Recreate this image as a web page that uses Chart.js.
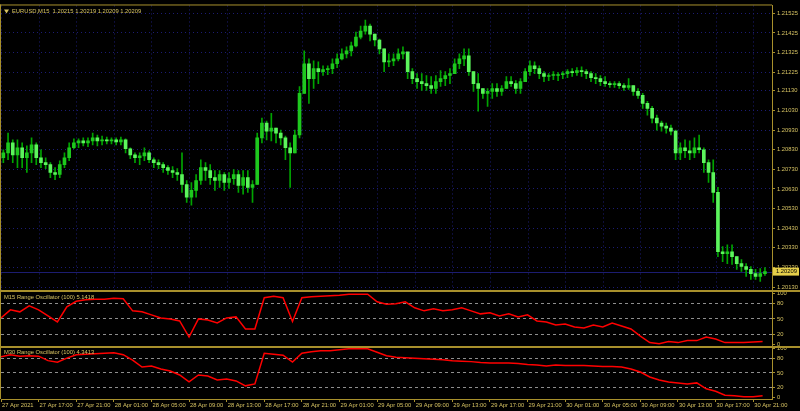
<!DOCTYPE html>
<html>
<head>
<meta charset="utf-8">
<script src="https://cdn.jsdelivr.net/npm/chart.js@4.4.0/dist/chart.umd.min.js"></script>
<style>
  html, body { margin: 0; padding: 0; background: #000; }
  canvas { display: block; }
</style>
</head>
<body>
<canvas id="chart" width="800" height="411"></canvas>
<script>
    // EURUSD M15, shown as 30 minute candles (hours since 27 Apr 13:00)
    const barHours = 0.5;
    const firstOpen = 1.20789;
    const highs = [
        1.20830, 1.20915, 1.20880, 1.20880, 1.20865, 1.20850, 1.20890, 1.20865, 1.20830, 1.20789,
        1.20764, 1.20739, 1.20774, 1.20814, 1.20865, 1.20885, 1.20885, 1.20890, 1.20890, 1.20915,
        1.20905, 1.20900, 1.20895, 1.20890, 1.20890, 1.20895, 1.20885, 1.20840, 1.20814, 1.20814,
        1.20840, 1.20825, 1.20789, 1.20779, 1.20764, 1.20749, 1.20744, 1.20734, 1.20814, 1.20673,
        1.20663, 1.20704, 1.20779, 1.20764, 1.20754, 1.20724, 1.20724, 1.20714, 1.20714, 1.20729,
        1.20724, 1.20724, 1.20724, 1.20673, 1.20915, 1.20991, 1.20976, 1.21016, 1.20940, 1.20930,
        1.20900, 1.20865, 1.20930, 1.21152, 1.21334, 1.21293, 1.21283, 1.21278, 1.21258, 1.21258,
        1.21293, 1.21318, 1.21344, 1.21354, 1.21379, 1.21429, 1.21460, 1.21490, 1.21470, 1.21419,
        1.21394, 1.21344, 1.21318, 1.21318, 1.21344, 1.21354, 1.21318, 1.21243, 1.21218, 1.21218,
        1.21208, 1.21203, 1.21208, 1.21233, 1.21228, 1.21243, 1.21293, 1.21318, 1.21344, 1.21344,
        1.21228, 1.21218, 1.21142, 1.21142, 1.21167, 1.21167, 1.21157, 1.21203, 1.21203, 1.21182,
        1.21192, 1.21243, 1.21283, 1.21278, 1.21258, 1.21228, 1.21218, 1.21228, 1.21223, 1.21228,
        1.21238, 1.21243, 1.21248, 1.21253, 1.21238, 1.21228, 1.21218, 1.21208, 1.21203, 1.21177,
        1.21177, 1.21177, 1.21167, 1.21192, 1.21157, 1.21142, 1.21117, 1.21077, 1.21051, 1.21006,
        1.20976, 1.20966, 1.20956, 1.20930, 1.20865, 1.20880, 1.20875, 1.20890, 1.20905, 1.20840,
        1.20779, 1.20779, 1.20638, 1.20336, 1.20346, 1.20346, 1.20285, 1.20270, 1.20250, 1.20235,
        1.20220, 1.20225, 1.20230
    ];
    const lows = [
        1.20764, 1.20779, 1.20764, 1.20739, 1.20739, 1.20714, 1.20764, 1.20754, 1.20739, 1.20734,
        1.20688, 1.20678, 1.20688, 1.20739, 1.20774, 1.20835, 1.20840, 1.20850, 1.20845, 1.20855,
        1.20850, 1.20855, 1.20860, 1.20860, 1.20855, 1.20855, 1.20814, 1.20784, 1.20764, 1.20754,
        1.20774, 1.20764, 1.20739, 1.20734, 1.20714, 1.20704, 1.20688, 1.20673, 1.20613, 1.20562,
        1.20547, 1.20588, 1.20653, 1.20673, 1.20653, 1.20623, 1.20638, 1.20623, 1.20633, 1.20653,
        1.20613, 1.20603, 1.20613, 1.20562, 1.20653, 1.20865, 1.20880, 1.20875, 1.20865, 1.20855,
        1.20779, 1.20638, 1.20814, 1.20890, 1.21117, 1.21066, 1.21142, 1.21167, 1.21208, 1.21213,
        1.21218, 1.21248, 1.21288, 1.21298, 1.21308, 1.21354, 1.21394, 1.21419, 1.21384, 1.21359,
        1.21318, 1.21228, 1.21253, 1.21258, 1.21283, 1.21293, 1.21192, 1.21167, 1.21142, 1.21132,
        1.21132, 1.21117, 1.21117, 1.21152, 1.21157, 1.21167, 1.21218, 1.21243, 1.21258, 1.21208,
        1.21127, 1.21026, 1.21092, 1.21051, 1.21092, 1.21102, 1.21107, 1.21142, 1.21152, 1.21117,
        1.21117, 1.21177, 1.21208, 1.21218, 1.21192, 1.21177, 1.21182, 1.21187, 1.21182, 1.21192,
        1.21197, 1.21203, 1.21208, 1.21203, 1.21192, 1.21177, 1.21167, 1.21157, 1.21152, 1.21147,
        1.21147, 1.21142, 1.21132, 1.21137, 1.21107, 1.21092, 1.21041, 1.21006, 1.20966, 1.20930,
        1.20925, 1.20915, 1.20905, 1.20779, 1.20779, 1.20789, 1.20779, 1.20789, 1.20814, 1.20714,
        1.20663, 1.20562, 1.20285, 1.20260, 1.20250, 1.20245, 1.20220, 1.20210, 1.20184, 1.20169,
        1.20169, 1.20159, 1.20189
    ];
    const closes = [
        1.20814, 1.20865, 1.20804, 1.20840, 1.20789, 1.20814, 1.20855, 1.20789, 1.20764, 1.20754,
        1.20714, 1.20704, 1.20754, 1.20789, 1.20840, 1.20865, 1.20875, 1.20865, 1.20875, 1.20890,
        1.20875, 1.20880, 1.20875, 1.20880, 1.20870, 1.20880, 1.20835, 1.20804, 1.20789, 1.20799,
        1.20814, 1.20779, 1.20764, 1.20754, 1.20739, 1.20724, 1.20714, 1.20704, 1.20653, 1.20588,
        1.20623, 1.20673, 1.20739, 1.20724, 1.20688, 1.20673, 1.20704, 1.20663, 1.20683, 1.20704,
        1.20648, 1.20688, 1.20638, 1.20653, 1.20890, 1.20966, 1.20925, 1.20940, 1.20915, 1.20890,
        1.20840, 1.20814, 1.20905, 1.21117, 1.21268, 1.21192, 1.21243, 1.21228, 1.21238, 1.21243,
        1.21268, 1.21293, 1.21318, 1.21334, 1.21359, 1.21404, 1.21434, 1.21460, 1.21419, 1.21389,
        1.21344, 1.21278, 1.21283, 1.21293, 1.21318, 1.21329, 1.21228, 1.21192, 1.21177, 1.21167,
        1.21157, 1.21142, 1.21177, 1.21192, 1.21208, 1.21218, 1.21268, 1.21293, 1.21308, 1.21228,
        1.21167, 1.21142, 1.21117, 1.21127, 1.21142, 1.21127, 1.21142, 1.21177, 1.21167, 1.21142,
        1.21177, 1.21228, 1.21258, 1.21243, 1.21218, 1.21203, 1.21208, 1.21208, 1.21213, 1.21218,
        1.21228, 1.21223, 1.21233, 1.21228, 1.21218, 1.21197, 1.21192, 1.21177, 1.21167, 1.21162,
        1.21167, 1.21157, 1.21147, 1.21157, 1.21127, 1.21107, 1.21066, 1.21041, 1.20991, 1.20966,
        1.20950, 1.20940, 1.20925, 1.20814, 1.20840, 1.20825, 1.20814, 1.20840, 1.20830, 1.20764,
        1.20714, 1.20613, 1.20310, 1.20300, 1.20310, 1.20285, 1.20250, 1.20235, 1.20220, 1.20199,
        1.20184, 1.20199, 1.20209
    ];

    // Range oscillators, one value per hour
    const oscM15 = [
        52, 68, 64, 76, 68, 56, 44, 74, 85, 88,
        89, 89, 91, 90, 66, 64, 58, 52, 50, 46,
        14, 50, 48, 42, 52, 54, 30, 30, 92, 95,
        92, 45, 92, 94, 95, 96, 97, 99, 99, 99,
        84, 79, 80, 84, 72, 66, 70, 66, 68, 72,
        66, 60, 62, 56, 60, 54, 58, 46, 44, 38,
        40, 34, 32, 38, 34, 42, 36, 30, 16, 3,
        1, 5, 3, 7, 7, 14, 10, 3, 3, 3,
        4, 5
    ];
    const oscM30 = [
        83, 87, 84, 85, 84, 75, 72, 80, 87, 88,
        89, 90, 91, 87, 76, 62, 64, 58, 54, 46,
        32, 46, 44, 36, 38, 34, 24, 28, 90, 88,
        86, 72, 90, 93, 95, 95, 97, 99, 99, 99,
        92, 85, 82, 81, 80, 79, 78, 77, 75, 74,
        73, 71, 70, 70, 70, 69, 67, 66, 64, 66,
        65, 65, 65, 64, 63, 63, 62, 58, 52, 42,
        36, 32, 30, 28, 30, 18, 13, 5, 4, 2,
        2, 4
    ];

    const timeTicks = [0, 4, 8, 12, 16, 20, 24, 28, 32, 36, 40, 44, 48, 52, 56, 60, 64, 68, 72, 76, 80];
    const timeLabels = ['27 Apr 2021', '27 Apr 17:00', '27 Apr 21:00', '28 Apr 01:00', '28 Apr 05:00',
        '28 Apr 09:00', '28 Apr 13:00', '28 Apr 17:00', '28 Apr 21:00', '29 Apr 01:00', '29 Apr 05:00',
        '29 Apr 09:00', '29 Apr 13:00', '29 Apr 17:00', '29 Apr 21:00', '30 Apr 01:00', '30 Apr 05:00',
        '30 Apr 09:00', '30 Apr 13:00', '30 Apr 17:00', '30 Apr 21:00'];
    const priceTicks = [1.21525, 1.21425, 1.21325, 1.21225, 1.21130, 1.21030, 1.20930, 1.20830,
        1.20730, 1.20630, 1.20530, 1.20430, 1.20330, 1.20230, 1.20130];
    const oscTicks = [0, 20, 50, 80, 100];
    const oscLevels = [20, 50, 80];

    const headerText = 'EURUSD,M15  1.20215 1.20219 1.20209 1.20209';
    const oscM15Text = 'M15 Range Oscillator (100) 5.1418';
    const oscM30Text = 'M30 Range Oscillator (100) 4.3413';

    const frameColor = '#a8902c';
    const textColor = '#d6c262';
    const gridColor = '#1c1c74';
    const fontFamily = '"Liberation Sans", Arial, sans-serif';
    const smallFont = { family: fontFamily, size: 5.8 };

    const opens = closes.map((c, i) => i === 0 ? firstOpen : closes[i - 1]);
    const barTime = i => i * barHours + barHours / 2;

    // grid lines, frame, panel titles and the price box
    const terminalLook = {
        id: 'terminalLook',
        beforeDatasetsDraw(chart) {
            const { ctx, scales } = chart;
            ctx.save();
            ctx.strokeStyle = gridColor;
            ctx.lineWidth = 1;
            ctx.setLineDash([1, 3]);
            timeTicks.forEach(h => {
                const px = Math.round(scales.x.getPixelForValue(h)) + 0.5;
                ctx.beginPath();
                ctx.moveTo(px, scales.y.top);
                ctx.lineTo(px, scales.y.bottom);
                ctx.stroke();
            });
            // bid line
            const by = Math.round(scales.y.getPixelForValue(closes[closes.length - 1])) + 0.5;
            ctx.setLineDash([]);
            ctx.strokeStyle = '#1c1c70';
            ctx.beginPath();
            ctx.moveTo(scales.x.left, by);
            ctx.lineTo(scales.x.right, by);
            ctx.stroke();
            ctx.restore();
        },
        afterDraw(chart) {
            const { ctx, chartArea, scales } = chart;
            const w = chart.width;
            ctx.save();
            ctx.fillStyle = frameColor;
            ctx.fillRect(chartArea.left - 1, chartArea.top - 1, chartArea.right - chartArea.left + 1, 1);
            ctx.fillRect(chartArea.left - 1, chartArea.top - 1, 1, chartArea.bottom - chartArea.top + 1);
            ctx.fillRect(0, Math.round(scales.y1.top) - 1, w, 2);
            ctx.fillRect(0, Math.round(scales.y2.top) - 1, w, 2);

            ctx.font = '5.8px ' + fontFamily;
            ctx.textBaseline = 'middle';
            ctx.textAlign = 'left';
            ctx.fillStyle = textColor;
            ctx.fillText(headerText, 12, chartArea.top + 6);
            ctx.fillText(oscM15Text, 4, scales.y1.top + 6);
            ctx.fillText(oscM30Text, 4, scales.y2.top + 6);
            ctx.beginPath();
            ctx.moveTo(4, chartArea.top + 4);
            ctx.lineTo(9, chartArea.top + 4);
            ctx.lineTo(6.5, chartArea.top + 8);
            ctx.closePath();
            ctx.fill();

            // last price box
            const last = closes[closes.length - 1];
            const py = scales.y.getPixelForValue(last);
            ctx.fillStyle = '#e6cf4a';
            ctx.fillRect(scales.y.left + 1, py - 4, 26, 8);
            ctx.fillStyle = '#000';
            ctx.fillText(last.toFixed(5), scales.y.left + 4, py);
            ctx.restore();
        }
    };

    const oscAxis = (weight, min, max) => ({
        type: 'linear',
        position: 'right',
        stack: 'panes',
        stackWeight: weight,
        min: min,
        max: max,
        beginAtZero: false,
        afterBuildTicks: s => { s.ticks = oscTicks.map(v => ({ value: v })); },
        afterFit: s => { s.width = 28; },
        ticks: { autoSkip: false, color: textColor, font: smallFont, padding: 2, callback: v => String(v) },
        grid: {
            color: c => (c.tick && oscLevels.includes(c.tick.value)) ? '#8e8e8e' : 'rgba(0,0,0,0)',
            tickColor: frameColor,
            tickLength: 3
        },
        border: { color: frameColor, dash: [3, 3] }
    });

    new Chart(document.getElementById('chart'), {
        type: 'bar',
        data: {
            datasets: [
                {
                    label: 'range',
                    yAxisID: 'y',
                    data: highs.map((h, i) => ({ x: barTime(i), y: [lows[i], h] })),
                    backgroundColor: '#00a400',
                    barThickness: 1,
                    grouped: false,
                    order: 3
                },
                {
                    label: 'body',
                    yAxisID: 'y',
                    data: closes.map((c, i) => ({ x: barTime(i), y: [opens[i], c] })),
                    backgroundColor: c => closes[c.dataIndex] >= opens[c.dataIndex] ? '#1ec81e' : '#5cf55c',
                    barThickness: 3,
                    minBarLength: 1,
                    grouped: false,
                    order: 2
                },
                {
                    type: 'line',
                    label: 'M15 Range Oscillator',
                    yAxisID: 'y1',
                    data: oscM15.map((v, h) => ({ x: h, y: v })),
                    borderColor: '#ff0000',
                    borderWidth: 1.5,
                    pointRadius: 0,
                    tension: 0,
                    order: 1
                },
                {
                    type: 'line',
                    label: 'M30 Range Oscillator',
                    yAxisID: 'y2',
                    data: oscM30.map((v, h) => ({ x: h, y: v })),
                    borderColor: '#ff0000',
                    borderWidth: 1.5,
                    pointRadius: 0,
                    tension: 0,
                    order: 1
                }
            ]
        },
        options: {
            responsive: false,
            animation: false,
            layout: { padding: { top: 1, left: 1, right: 0, bottom: 0 } },
            plugins: { legend: { display: false }, tooltip: { enabled: false } },
            scales: {
                x: {
                    type: 'linear',
                    min: 0,
                    max: 82,
                    offset: false,
                    afterBuildTicks: s => { s.ticks = timeTicks.map(v => ({ value: v })); },
                    afterFit: s => { s.height = 12; },
                    ticks: {
                        autoSkip: false,
                        maxRotation: 0,
                        align: 'start',
                        labelOffset: 1,
                        padding: 0,
                        color: textColor,
                        font: smallFont,
                        callback: (v, i) => timeLabels[i]
                    },
                    grid: { drawOnChartArea: false, tickLength: 3, tickColor: frameColor, color: frameColor, offset: false },
                    border: { color: frameColor }
                },
                y: {
                    type: 'linear',
                    position: 'right',
                    stack: 'panes',
                    stackWeight: 289,
                    min: 1.20109,
                    max: 1.21565,
                    beginAtZero: false,
                    afterBuildTicks: s => { s.ticks = priceTicks.map(v => ({ value: v })); },
                    afterFit: s => { s.width = 28; },
                    ticks: { autoSkip: false, color: textColor, font: smallFont, padding: 2, callback: v => v.toFixed(5) },
                    grid: { color: gridColor, tickColor: frameColor, tickLength: 3 },
                    border: { color: frameColor, dash: [1, 3] }
                },
                y1: oscAxis(56, -4.9, 104.9),
                y2: oscAxis(53, -2.6, 103.4)
            }
        },
        plugins: [terminalLook]
    });
</script>
</body>
</html>
